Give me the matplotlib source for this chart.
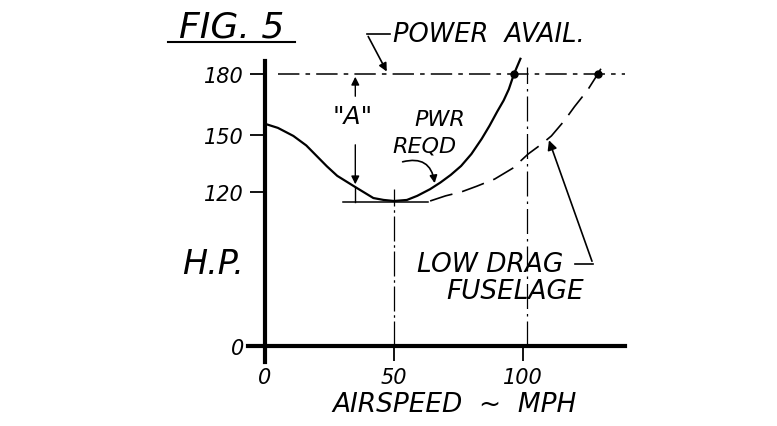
import numpy as np
import matplotlib.pyplot as plt
from matplotlib.lines import Line2D

# dati (mph, HP)
speed_req = [0, 5, 11, 16, 20, 24, 28, 35, 42, 46, 50, 55, 59, 64, 68, 72, 76, 80, 84, 87, 90, 92.5, 94.5, 96.5, 99]
hp_req = [155.5, 153.5, 149.5, 144.5, 139, 133.5, 128.5, 122.6, 115.3, 113.8, 113, 113.8, 117, 121.5, 125, 129, 133.7, 140, 148, 154.5, 161.5, 167, 172.5, 180, 187.5]

speed_lowdrag = [64, 70, 76, 82, 89, 96, 102, 107, 111, 116, 120, 125, 129, 132]
hp_lowdrag = [113, 117, 120, 123, 126.8, 132.5, 140, 145, 149.5, 157, 164, 172, 180, 186.5]

power_avail = 180
min_hp = 112.5
x_ticks = [0, 50, 100]
y_ticks = [0, 120, 150, 180]

# asse y non in scala: tratti diversi sotto e sopra 120 HP
hp_pts = [-200, 0, 120, 150, 180, 400]
px_pts = [-256, 0, 154, 211, 272, 718.6]


def fwd(v):
    return np.interp(v, hp_pts, px_pts)


def inv(v):
    return np.interp(v, px_pts, hp_pts)


fig = plt.figure(figsize=(7.77, 4.27), dpi=100)
ax = fig.add_axes([0, 0, 1, 1])
ax.set_yscale('function', functions=(fwd, inv))
ax.set_xlim(-265 / 2.58, 512 / 2.58)
ax.set_ylim(inv(-80), inv(347))

hand = dict(family='DejaVu Sans', style='italic', color='black')

# assi
for s in ['top', 'right']:
    ax.spines[s].set_visible(False)
ax.spines['left'].set_position(('data', 0))
ax.spines['bottom'].set_position(('data', 0))
ax.spines['left'].set_bounds(-12.5, 186.5)
ax.spines['bottom'].set_bounds(-6.6, 139.5)
ax.spines['left'].set_linewidth(3)
ax.spines['bottom'].set_linewidth(3)
ax.set_xticks(x_ticks)
ax.set_yticks(y_ticks)
ax.set_xticklabels([str(t) for t in x_ticks], fontsize=15, **hand)
ax.set_yticklabels([str(t) for t in y_ticks], fontsize=15, **hand)
ax.tick_params(axis='both', direction='out', length=11, width=1.3, pad=4)
ax.yaxis.set_minor_locator(plt.NullLocator())

# curve
ax.plot(speed_req, hp_req, color='black', lw=1.6)
ax.plot(speed_lowdrag, hp_lowdrag, color='black', lw=1.2, dashes=(14, 6))
ax.plot([96.5, 129], [power_avail, power_avail], 'o', color='black', ms=5)

# linee di riferimento
ax.plot([5, 139.5], [power_avail, power_avail], color='black', lw=1.1, dashes=(14, 4, 3, 4))
ax.plot([30.2, 63.2], [min_hp, min_hp], color='black', lw=1.1)
ax.plot([50, 50], [0, 121.6], color='black', lw=0.9, dashes=(20, 3, 2, 3))
ax.plot([101.6, 101.6], [0, 183.4], color='black', lw=0.9, dashes=(20, 4, 2, 4))

# freccia "A"
ax.annotate('', xy=(35, 180), xytext=(35, 167.7),
            arrowprops=dict(arrowstyle='-|>', color='black', lw=1, mutation_scale=12))
ax.annotate('', xy=(35, 122.6), xytext=(35, 146.3),
            arrowprops=dict(arrowstyle='-|>', color='black', lw=1, mutation_scale=12))
ax.plot([35, 35], [122.6, min_hp], color='black', lw=1)
ax.text(34, 159.4, '"A"', fontsize=18, ha='center', va='center', **hand)

# POWER AVAIL.
ax.plot([48.4, 39.5], [199.7, 199.7], color='black', lw=1.2)
ax.annotate('', xy=(47.7, 180), xytext=(39.5, 199.7),
            arrowprops=dict(arrowstyle='-|>', color='black', lw=1.2, mutation_scale=12))
ax.text(49.5, 199.7, 'POWER  AVAIL.', fontsize=18.5, ha='left', va='center', **hand)

# PWR REQD
ax.text(67.8, 158, 'PWR', fontsize=16, ha='center', va='center', **hand)
ax.text(62, 144.7, 'REQD', fontsize=16, ha='center', va='center', **hand)
ax.annotate('', xy=(65.9, 123.2), xytext=(52.3, 135.5),
            arrowprops=dict(arrowstyle='-|>', color='black', lw=1.2, mutation_scale=11,
                            connectionstyle='arc3,rad=-0.6'))

# LOW DRAG FUSELAGE
ax.text(87.2, 64, 'LOW DRAG', fontsize=19, ha='center', va='center', **hand)
ax.text(96.9, 43, 'FUSELAGE', fontsize=19, ha='center', va='center', **hand)
ax.plot([120.2, 127.1], [64, 64], color='black', lw=1.2)
ax.annotate('', xy=(109.7, 148.6), xytext=(127.1, 64),
            arrowprops=dict(arrowstyle='-|>', color='black', lw=1.2, mutation_scale=14))

# etichette
ax.text(-20.2, 64, 'H.P.', fontsize=24, ha='center', va='center', **hand)
ax.text(73.6, -45, 'AIRSPEED  ~  MPH', fontsize=19, ha='center', va='center', **hand)

# titolo
fig.text(232 / 777, 1 - 28 / 427, 'FIG. 5', fontsize=26, ha='center', va='center', **hand)
fig.add_artist(Line2D([168 / 777, 295 / 777], [1 - 43 / 427, 1 - 43 / 427],
                      color='black', lw=1.5))

fig.savefig('out.png', dpi=100)
